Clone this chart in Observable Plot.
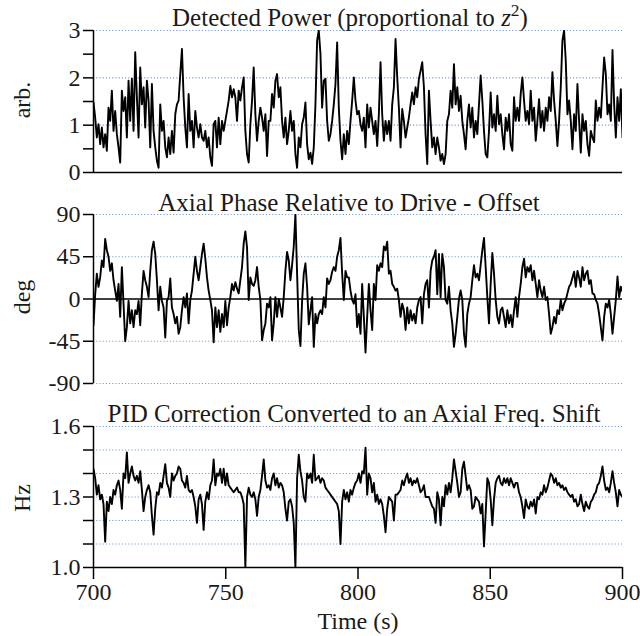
<!DOCTYPE html>
<html><head><meta charset="utf-8">
<script src="https://cdn.jsdelivr.net/npm/d3@7"></script>
<script src="https://cdn.jsdelivr.net/npm/@observablehq/plot@0.6"></script>
<style>
body{margin:0;background:#fff;}
#chart{position:relative;width:640px;height:636px;font-family:"Liberation Serif","Tinos","DejaVu Serif","Noto Serif",serif;color:#1a1a1a;overflow:hidden;}
.lbl{position:absolute;transform:translate(-50%,-50%);white-space:nowrap;font-size:24px;line-height:1;}
.ttl{font-size:25px;}
.rot{transform:translate(-50%,-50%) rotate(-90deg);}
.panel{position:absolute;left:0;}
sup{font-size:0.7em;vertical-align:0.55em;line-height:0;}
</style></head><body><div id="chart"></div>
<script>
// ---- data ----
const timeStart = 700, timeEnd = 900;
const xTicks = [700, 750, 800, 850, 900];

const titles = ["Detected Power (proportional to ", "Axial Phase Relative to Drive - Offset", "PID Correction Converted to an Axial Freq. Shift"];
const yLabels = ["arb.", "deg", "Hz"];
const xLabel = "Time (s)";

const power = [
1.48,1.16,0.74,1.02,0.6,0.95,0.53,0.81,0.46,1.37,1.09,1.73,0.88,1.30,0.81,0.53,0.21,1.73,1.3,1.59,
0.74,1.94,1.09,1.98,0.88,2.54,1.59,0.74,2.22,1.44,1.80,0.95,1.94,1.52,0.53,1.87,0.88,0.53,0.25,0.1,
1.44,0.88,1.09,0.53,0.32,0.74,0.39,0.88,0.42,1.23,1.44,1.52,2.08,2.61,1.59,0.95,0.53,1.66,0.88,1.09,
0.53,1.30,0.95,0.74,1.02,0.74,0.67,0.88,0.53,0.74,0.32,0.14,1.02,1.09,0.53,1.16,0.6,1.09,0.88,1.09,
1.30,1.52,1.83,1.59,1.76,1.59,1.09,1.73,1.52,1.80,2.01,0.88,0.39,0.21,1.02,1.52,2.22,1.23,0.67,1.09,
1.37,1.16,0.88,1.23,0.35,1.09,1.09,
1.66,1.37,1.94,2.08,1.59,1.80,1.09,0.74,1.16,0.6,0.88,1.30,0.88,1.09,0.39,0.1,0.74,0.53,1.02,1.16,
1.48,0.6,0.28,0.42,0.18,0.53,1.44,2.79,3.0,2.51,1.37,1.94,1.98,1.09,0.67,0.81,1.09,1.44,1.87,2.75,
1.37,0.67,0.28,0.81,0.39,0.88,0.6,1.09,1.52,2.01,1.52,1.23,1.30,1.02,0.88,1.16,0.53,1.44,0.95,
1.37,1.09,0.81,1.09,0.56,1.23,2.33,1.23,0.67,1.09,0.81,1.09,0.67,1.44,1.80,2.82,2.01,1.37,0.53,1.34,
1.09,0.74,0.95,1.16,1.44,1.69,1.44,1.80,1.59,1.98,2.15,2.33,1.80,0.81,0.18,1.73,1.09,0.53,0.74,0.39,
0.74,0.53,0.25,0.39,0.18,
0.39,1.09,1.23,1.73,1.37,2.29,1.44,1.80,1.30,1.62,1.09,0.81,0.49,1.09,1.44,0.95,1.37,0.74,1.09,0.81,
1.44,2.05,1.52,0.88,0.39,0.32,0.88,1.69,0.95,1.23,0.88,1.62,1.02,1.23,0.81,0.49,1.16,0.88,1.23,0.6,
0.46,1.59,1.09,1.37,1.09,1.66,2.01,1.52,1.09,1.30,1.02,1.73,1.09,1.37,0.67,1.09,1.55,0.95,1.30,0.88,
1.37,1.09,1.59,1.30,2.12,1.52,1.09,0.56,1.09,1.80,2.79,3.0,2.36,1.23,1.52,1.09,0.49,1.23,0.88,1.87,
1.09,0.42,1.23,0.88,1.09,0.6,0.35,0.88,0.74,0.64,1.52,1.09,1.37,1.16,1.80,2.43,2.08,1.23,1.44,1.09,
2.59,1.44,0.74,1.59,1.09,1.76,0.74
];

const phase = [
-28,5,27,13,23,41,34,64,52,45,30,38,20,9,-2,16,-19,34,-5,-45,
-30,-2,-26,-12,-30,-12,-16,-2,-28,6,30,20,13,2,30,52,61,48,20,-12,
13,-2,-9,-41,-2,2,22,-9,-16,-26,-19,-37,-30,-12,2,-9,6,-26,-1,9,
27,45,30,20,34,48,59,43,23,9,-1,-12,-46,-9,-30,-12,-35,-16,-30,-2,
-28,-9,2,16,9,18,11,6,20,34,59,72,55,-1,23,16,14,20,34,13,
-1,-44,-33,-26,-5,-9,2,
-44,-26,2,-19,0,-9,-19,2,30,50,41,20,36,56,90,27,-33,-50,-2,27,
38,13,-27,-12,2,-51,-16,-26,-16,-12,-16,2,-9,22,16,20,29,34,30,45,
52,65,27,-1,30,23,23,9,-1,-5,5,-30,-16,-37,16,-19,-57,-19,16,-12,
-33,16,-1,36,30,38,34,56,52,61,27,30,16,13,9,11,-1,-19,-5,-12,
-33,-9,-26,-12,-23,-16,-26,-9,-1,2,-26,5,16,20,-9,30,41,45,52,5,
48,2,48,34,
-1,-5,13,-12,-26,-51,-37,-19,0,9,-1,-37,-51,-16,-5,2,20,36,23,27,
20,36,52,65,34,2,-26,16,49,27,-1,-19,-26,-12,-9,-19,-30,-12,-26,-17,
-30,-12,2,-19,2,16,34,43,23,34,29,36,20,30,16,2,20,9,2,13,
-1,2,-16,-37,-30,-19,-26,-12,-16,-1,-12,-5,-1,6,13,16,23,29,13,30,
23,13,34,20,27,30,16,20,6,5,-1,-5,-16,-30,-44,-19,-5,-9,-1,-16,
-37,-19,-1,24,2,13,8
];

const shift = [
1.42,1.38,1.31,1.35,1.29,1.31,1.27,1.11,1.28,1.24,1.30,1.27,1.33,1.31,1.35,1.37,1.33,1.25,1.40,1.38,
1.49,1.36,1.40,1.43,1.39,1.37,1.39,1.36,1.41,1.33,1.24,1.30,1.33,1.35,1.32,1.22,1.14,1.25,1.32,1.31,
1.36,1.34,1.39,1.44,1.36,1.34,1.30,1.40,1.37,1.39,1.40,1.43,1.42,1.37,1.36,1.34,1.39,1.33,1.32,1.33,
1.30,1.26,1.19,1.29,1.31,1.27,1.16,1.28,1.32,1.29,1.35,1.37,1.46,1.35,1.40,1.39,1.42,1.36,1.42,1.35,
1.40,1.35,1.34,1.33,1.32,1.33,1.34,1.32,1.32,1.30,1.27,1.00,1.30,1.34,1.31,1.30,1.32,1.29,1.22,1.30,
1.33,1.39,1.46,1.37,1.34,1.35,1.33,
1.38,1.40,1.35,1.38,1.34,1.36,1.35,1.32,1.25,1.20,1.28,1.29,1.26,1.19,1.00,1.38,1.48,1.41,1.37,1.30,
1.28,1.40,1.38,1.40,1.36,1.48,1.37,1.38,1.39,1.36,1.38,1.37,1.34,1.33,1.32,1.31,1.30,1.29,1.28,1.27,
1.24,1.10,1.28,1.33,1.29,1.32,1.28,1.33,1.31,1.34,1.36,1.37,1.40,1.36,1.41,1.40,1.51,1.31,1.40,1.38,
1.32,1.36,1.28,1.31,1.27,1.29,1.27,1.22,1.15,1.25,1.30,1.29,1.28,1.20,1.31,1.31,1.32,1.33,1.37,1.35,
1.38,1.40,1.36,1.38,1.35,1.37,1.36,1.38,1.35,1.32,1.33,1.35,1.30,1.30,1.30,1.28,1.26,1.25,1.19,1.32,
1.29,1.18,1.30,1.26,
1.35,1.31,1.36,1.32,1.38,1.46,1.41,1.36,1.30,1.32,1.42,1.45,1.39,1.33,1.35,1.33,1.25,1.26,1.30,1.29,
1.28,1.23,1.27,1.09,1.23,1.38,1.36,1.29,1.18,1.29,1.36,1.38,1.39,1.36,1.35,1.38,1.36,1.38,1.35,1.38,
1.36,1.34,1.36,1.36,1.32,1.30,1.26,1.21,1.29,1.26,1.25,1.28,1.26,1.29,1.23,1.30,1.29,1.32,1.31,1.35,
1.32,1.34,1.37,1.40,1.39,1.36,1.38,1.35,1.36,1.34,1.35,1.33,1.34,1.32,1.31,1.30,1.31,1.28,1.29,1.26,
1.27,1.31,1.27,1.24,1.28,1.26,1.25,1.28,1.29,1.31,1.32,1.35,1.36,1.39,1.43,1.37,1.33,1.34,1.32,1.36,
1.41,1.36,1.32,1.26,1.33,1.31,1.30
];

// tick values per panel
const powerTicks = [0, 0.5, 1, 1.5, 2, 2.5, 3];
const powerGrid = [1, 2, 3];
const phaseTicks = [-90, -45, 0, 45, 90];
const phaseGrid = [-90, -45, 45, 90];
const shiftTicks = [1.0, 1.1, 1.2, 1.3, 1.4, 1.5, 1.6];
const shiftGrid = [1.1, 1.2, 1.3, 1.4, 1.5, 1.6];

// ---- drawing ----
const GRID = "#7b9ddb";
const FONT = '"Liberation Serif", Tinos, "DejaVu Serif", "Noto Serif", serif';
const chart = document.getElementById("chart");
const n = power.length;
const step = (timeEnd - timeStart) / (n - 1);
const rows = d3.range(n).map(i => ({t: timeStart + i * step, power: power[i], phase: phase[i], shift: shift[i]}));

function panel({top, height, mTop, mBottom, key, domain, ticks, grid, fmt, base, xAxis}) {
  const marks = [
    Plot.gridY(grid, {stroke: GRID, strokeOpacity: 1, strokeWidth: 1.2, strokeDasharray: "1.2,2"}),
    Plot.ruleY([base], {stroke: "#000", strokeWidth: 1.5}),
    Plot.ruleX([timeStart], {stroke: "#000", strokeWidth: 1.5}),
    Plot.axisY(ticks, {tickSize: 10, tickPadding: 3, tickFormat: fmt, fontSize: 24, fontFamily: FONT, label: null, stroke: "#000", strokeWidth: 1.5}),
    Plot.lineY(rows, {x: "t", y: key, stroke: "#000", strokeWidth: 1.9, clip: true})
  ];
  if (xAxis) marks.push(Plot.axisX(xTicks, {tickSize: 12, tickPadding: 3, fontSize: 24, fontFamily: FONT, label: null, stroke: "#000", strokeWidth: 1.5}));
  const svg = Plot.plot({
    width: 640, height,
    marginLeft: 93, marginRight: 18, marginTop: mTop, marginBottom: mBottom,
    style: {fontFamily: FONT, color: "#1a1a1a", background: "transparent", overflow: "visible"},
    x: {domain: [timeStart, timeEnd], axis: null},
    y: {domain, axis: null},
    marks
  });
  svg.classList.add("panel");
  svg.style.top = top + "px";
  chart.appendChild(svg);
}

panel({top: 0, height: 185, mTop: 30, mBottom: 13, key: "power", domain: [0, 3], ticks: powerTicks, grid: powerGrid,
  fmt: d => Number.isInteger(d) ? String(d) : "", base: 0});
panel({top: 185, height: 205, mTop: 29, mBottom: 7, key: "phase", domain: [-90, 90], ticks: phaseTicks, grid: phaseGrid,
  fmt: d => String(d), base: 0});
panel({top: 390, height: 246, mTop: 36, mBottom: 69, key: "shift", domain: [1.0, 1.6], ticks: shiftTicks, grid: shiftGrid,
  fmt: d => (Math.abs(d - 1.0) < 1e-9 || Math.abs(d - 1.3) < 1e-9 || Math.abs(d - 1.6) < 1e-9) ? d.toFixed(1) : "", base: 1.0, xAxis: true});

function label(html, x, y, cls) {
  const d = document.createElement("div");
  d.className = "lbl" + (cls ? " " + cls : "");
  d.style.left = x + "px"; d.style.top = y + "px";
  d.innerHTML = html;
  chart.appendChild(d);
}
label(titles[0] + "<i>z</i><sup>2</sup>)", 350, 17, "ttl");
label(titles[1], 349, 202, "ttl");
label(titles[2], 354, 413, "ttl");
label(yLabels[0], 22, 100, "rot");
label(yLabels[1], 22, 297, "rot");
label(yLabels[2], 22, 498, "rot");
label(xLabel, 358, 621);
</script>
</body></html>
